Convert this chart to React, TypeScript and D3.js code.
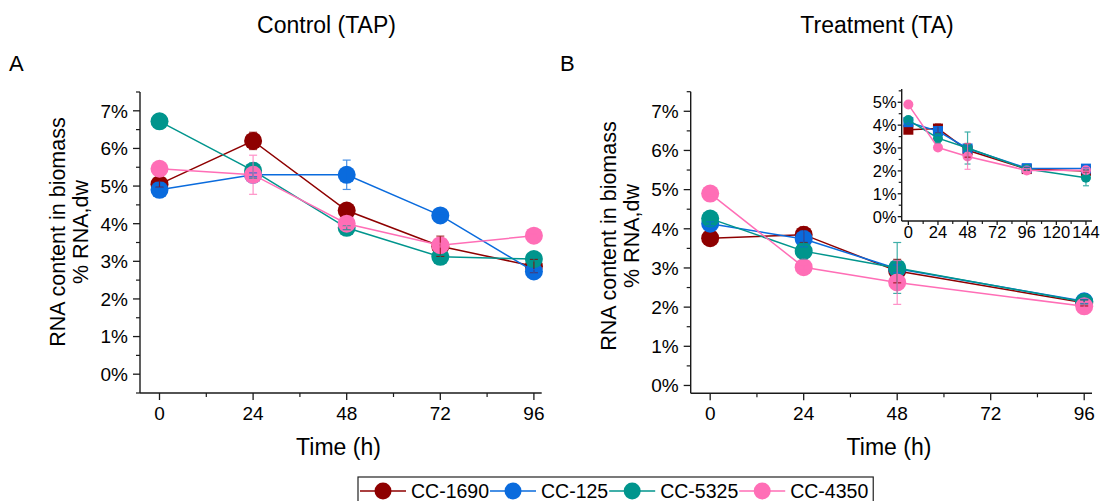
import React from "react";
import * as d3 from "d3";

// ---------- DATA ----------
const strains = ["CC-1690", "CC-125", "CC-5325", "CC-4350"];
const colors = ["#8E0000", "#0A6BDD", "#00958D", "#FF6EB6"];

const timesA = [0, 24, 48, 72, 96];
const controlMean = [
  [5.05, 6.2, 4.35, 3.4, 2.87],
  [4.9, 5.3, 5.3, 4.22, 2.73],
  [6.72, 5.41, 3.89, 3.12, 3.06],
  [5.46, 5.3, 4.0, 3.43, 3.68],
];
const controlErr = [
  [0.08, 0.23, 0.05, 0.27, 0.18],
  [0.05, 0.05, 0.39, 0.05, 0.05],
  [0.05, 0.2, 0.05, 0.05, 0.05],
  [0.05, 0.52, 0.08, 0.05, 0.05],
];

const timesB = [0, 24, 48, 96];
const treatMean = [
  [3.76, 3.85, 2.92, 2.11],
  [4.13, 3.74, 2.98, 2.15],
  [4.26, 3.43, 3.0, 2.13],
  [4.9, 3.02, 2.63, 2.02],
];
const treatErr = [
  [0.03, 0.2, 0.3, 0.08],
  [0.05, 0.2, 0.1, 0.05],
  [0.05, 0.2, 0.65, 0.05],
  [0.05, 0.05, 0.56, 0.1],
];

const timesInset = [0, 24, 48, 96, 144];
const insetMean = [
  [3.8, 3.85, 2.9, 2.08, 2.0],
  [4.13, 3.74, 2.98, 2.12, 2.1],
  [4.22, 3.43, 3.0, 2.08, 1.7],
  [4.9, 3.02, 2.63, 2.02, 2.03],
];
const insetErr = [
  [0.03, 0.2, 0.3, 0.06, 0.05],
  [0.05, 0.2, 0.1, 0.05, 0.03],
  [0.05, 0.2, 0.7, 0.05, 0.35],
  [0.05, 0.05, 0.56, 0.08, 0.06],
];
const insetSquare = [true, true, false, false];

const xTicksMain = [0, 24, 48, 72, 96];
const yTicksA = [0, 1, 2, 3, 4, 5, 6, 7];
const xTicksInset = [0, 24, 48, 72, 96, 120, 144];
const yTicksInset = [0, 1, 2, 3, 4, 5];

const FONT = "'Liberation Sans', Arial, Helvetica, sans-serif";
const AXIS = "#1a1a1a";

type PanelProps = {
  x: d3.ScaleLinear<number, number>;
  y: d3.ScaleLinear<number, number>;
  xTicks: number[];
  yTicks: number[];
  xMinor: number[];
  yMinor: number[];
  major: number;
  minor: number;
  fontSize: number;
  xLabelDy: number;
  yLabelGap: number;
};

function Axes(p: PanelProps) {
  const [x0, x1] = p.x.range();
  const [y0, y1] = p.y.range();
  return (
    <g>
      <line x1={x0} x2={x0} y1={y0} y2={y1} stroke={AXIS} strokeWidth={1.4} />
      <line x1={x0} x2={x1} y1={y0} y2={y0} stroke={AXIS} strokeWidth={1.4} />
      {p.yMinor.map((v) => (
        <line key={"ym" + v} x1={x0} x2={x0 - p.minor} y1={p.y(v)} y2={p.y(v)} stroke={AXIS} strokeWidth={1.2} />
      ))}
      {p.yTicks.map((v) => (
        <g key={"y" + v}>
          <line x1={x0} x2={x0 - p.major} y1={p.y(v)} y2={p.y(v)} stroke={AXIS} strokeWidth={1.3} />
          <text x={x0 - p.yLabelGap} y={p.y(v)} dy="0.36em" textAnchor="end" fontSize={p.fontSize} fontFamily={FONT} fill="#000">
            {v + "%"}
          </text>
        </g>
      ))}
      {p.xMinor.map((v) => (
        <line key={"xm" + v} x1={p.x(v)} x2={p.x(v)} y1={y0} y2={y0 + p.minor} stroke={AXIS} strokeWidth={1.2} />
      ))}
      {p.xTicks.map((v) => (
        <g key={"x" + v}>
          <line x1={p.x(v)} x2={p.x(v)} y1={y0} y2={y0 + p.major} stroke={AXIS} strokeWidth={1.3} />
          <text x={p.x(v)} y={y0 + p.xLabelDy} textAnchor="middle" fontSize={p.fontSize} fontFamily={FONT} fill="#000">
            {v}
          </text>
        </g>
      ))}
    </g>
  );
}

function Series({
  x, y, times, means, errs, r, squares, cap, lw,
}: {
  x: d3.ScaleLinear<number, number>;
  y: d3.ScaleLinear<number, number>;
  times: number[];
  means: number[][];
  errs: number[][];
  r: number;
  squares?: boolean[];
  cap: number;
  lw: number;
}) {
  const line = d3
    .line<number>()
    .x((_, i) => x(times[i]))
    .y((d) => y(d));
  return (
    <g>
      {means.map((m, s) => (
        <g key={"s" + s}>
          <path d={line(m) || ""} fill="none" stroke={colors[s]} strokeWidth={lw} />
          {m.map((v, i) =>
            squares && squares[s] ? (
              <rect key={i} x={x(times[i]) - r} y={y(v) - r} width={2 * r} height={2 * r} fill={colors[s]} />
            ) : (
              <circle key={i} cx={x(times[i])} cy={y(v)} r={r} fill={colors[s]} />
            )
          )}
        </g>
      ))}
      {means.map((m, s) => (
        <g key={"e" + s} stroke={colors[s]} strokeWidth={1.2} opacity={0.75}>
          {m.map((v, i) => {
            const cx = x(times[i]);
            const lo = y(v - errs[s][i]);
            const hi = y(v + errs[s][i]);
            return (
              <g key={i}>
                <line x1={cx} x2={cx} y1={lo} y2={hi} />
                <line x1={cx - cap} x2={cx + cap} y1={lo} y2={lo} />
                <line x1={cx - cap} x2={cx + cap} y1={hi} y2={hi} />
              </g>
            );
          })}
        </g>
      ))}
    </g>
  );
}

function YTitle({ cx, cy }: { cx: number; cy: number }) {
  return (
    <g fontFamily={FONT} fontSize={21.5} fill="#000" textAnchor="middle">
      <text transform={`translate(${cx},${cy}) rotate(-90)`}>RNA content in biomass</text>
      <text transform={`translate(${cx + 23},${cy}) rotate(-90)`}>% RNA,dw</text>
    </g>
  );
}

export default function App() {
  const minorMain = d3.range(12, 96, 24);
  const minorYA = d3.range(-0.5, 7.6, 1);
  const minorYB = d3.range(0.5, 7.6, 1);

  const xA = d3.scaleLinear().domain([-5, 98]).range([140, 541.7]);
  const yA = d3.scaleLinear().domain([-0.5, 7.5]).range([393, 92]);
  const xB = d3.scaleLinear().domain([-5, 98]).range([690.7, 1092]);
  const yB = d3.scaleLinear().domain([-0.2, 7.5]).range([393.3, 91.7]);
  const xI = d3.scaleLinear().domain([-5.4, 148.9]).range([901.7, 1092]);
  const yI = d3.scaleLinear().domain([-0.19, 5.58]).range([221, 89]);

  // legend layout
  const legFont = 19.5;
  const textW = (s: string) => {
    let w = 0;
    for (const ch of s) w += ch === "C" ? 0.722 : ch === "-" ? 0.333 : 0.556;
    return w * legFont;
  };
  let lx = 360;
  const legItems = strains.map((s, i) => {
    const item = { s, i, l0: lx, l1: lx + 46, tx: lx + 51 };
    lx = item.tx + textW(s) + 1;
    return item;
  });

  return (
    <svg
      width={1108}
      height={501}
      style={{ position: "absolute", left: 0, top: 0, background: "#fff" }}
    >
      <rect x={0} y={0} width={1108} height={501} fill="#fff" />
      {/* titles */}
      <g fontFamily={FONT} fontSize={23} fill="#000">
        <text x={326.5} y={33} textAnchor="middle">Control (TAP)</text>
        <text x={877} y={33} textAnchor="middle">Treatment (TA)</text>
        <text x={9} y={71} fontSize={22}>A</text>
        <text x={560} y={71} fontSize={22}>B</text>
        <text x={338.5} y={455} textAnchor="middle">Time (h)</text>
        <text x={889} y={455} textAnchor="middle">Time (h)</text>
      </g>
      <YTitle cx={65} cy={232} />
      <YTitle cx={615.5} cy={236} />

      {/* Panel A */}
      <Axes x={xA} y={yA} xTicks={xTicksMain} yTicks={yTicksA} xMinor={minorMain} yMinor={minorYA}
        major={7} minor={4} fontSize={19} xLabelDy={27} yLabelGap={12} />
      <Series x={xA} y={yA} times={timesA} means={controlMean} errs={controlErr} r={9} cap={4} lw={1.5} />

      {/* Panel B */}
      <Axes x={xB} y={yB} xTicks={xTicksMain} yTicks={yTicksA} xMinor={minorMain} yMinor={minorYB}
        major={7} minor={4} fontSize={19} xLabelDy={27} yLabelGap={12} />
      <Series x={xB} y={yB} times={timesB} means={treatMean} errs={treatErr} r={9} cap={4} lw={1.5} />

      {/* Inset */}
      <Axes x={xI} y={yI} xTicks={xTicksInset} yTicks={yTicksInset} xMinor={d3.range(12, 144, 24)}
        yMinor={d3.range(0.5, 5.6, 1)} major={4} minor={3} fontSize={16.5} xLabelDy={17} yLabelGap={5} />
      <Series x={xI} y={yI} times={timesInset} means={insetMean} errs={insetErr} r={5} squares={insetSquare} cap={3} lw={1.5} />

      {/* Legend */}
      <rect x={358} y={477} width={lx - 358 + 4} height={30} fill="#fff" stroke="#222" strokeWidth={1.2} />
      {legItems.map((it) => (
        <g key={it.s}>
          <line x1={it.l0} x2={it.l1} y1={491} y2={491} stroke={colors[it.i]} strokeWidth={1.5} />
          <circle cx={(it.l0 + it.l1) / 2} cy={491} r={8.5} fill={colors[it.i]} />
          <text x={it.tx} y={498} fontFamily={FONT} fontSize={legFont} fill="#000">{it.s}</text>
        </g>
      ))}
    </svg>
  );
}
